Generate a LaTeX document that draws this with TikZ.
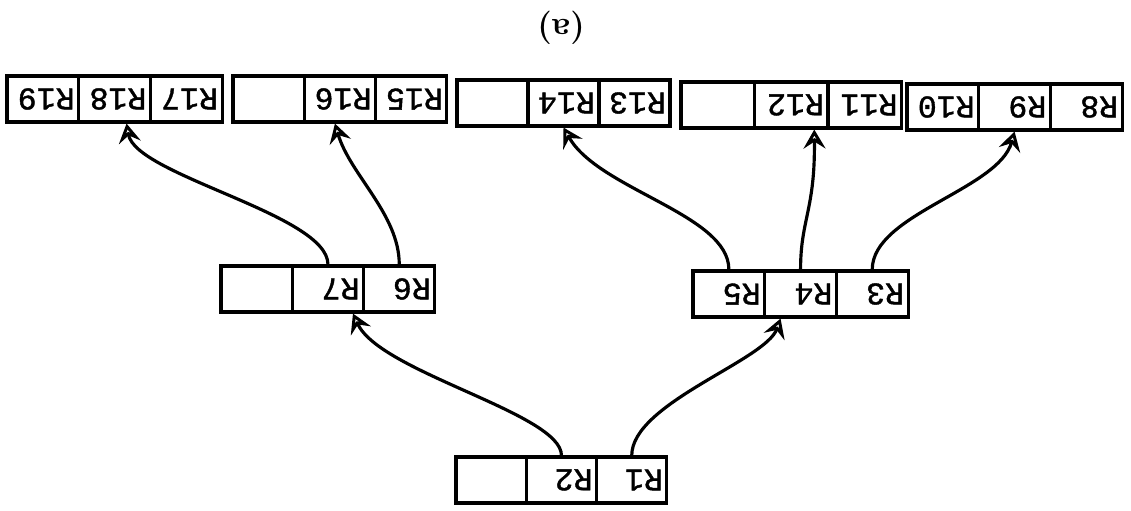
\documentclass[tikz,border=0pt]{standalone}
\usepackage{fontspec}
\usetikzlibrary{arrows.meta,calc}
\newfontfamily\cellfont{Liberation Mono}[FakeBold=1.2]

% one record of three cells; labels are given left to right as they appear
% #1 name, #2 left x, #3 top y, #4 cell width, #5 #6 #7 labels
\newcommand\recordbox[7]{%
  \node[cell, minimum width={#4*0.02cm}, text width={(#4-8)*0.02cm}]
    (#1a) at ({#2+0.5*#4},{#3+23}) {#5};
  \node[cell, minimum width={#4*0.02cm}, text width={(#4-8)*0.02cm}]
    (#1b) at ({#2+1.5*#4},{#3+23}) {#6};
  \node[cell, minimum width={#4*0.02cm}, text width={(#4-8)*0.02cm}]
    (#1c) at ({#2+2.5*#4},{#3+23}) {#7};
}

\begin{document}
\begin{tikzpicture}[x=0.02cm, y=-0.02cm,
  cell/.style={draw, line width=1.8pt, rotate=180, minimum height=0.92cm,
    inner xsep=0.06cm, inner ysep=0pt, align=left,
    font=\cellfont\fontsize{18}{18}\selectfont},
  link/.style={line width=1.8pt, line cap=round,
    -{Stealth[open, length=3.8mm, width=4.4mm, inset=1.4mm]}}]
\useasboundingbox (0,0) rectangle (1131,510);

% caption
\node[rotate=180, font=\bfseries\fontsize{19}{19}\selectfont] (caption) at (561,28) {(a)};

% leaf level
\recordbox{A}{7}{76}{71.7}{R19}{R18}{R17}
\recordbox{B}{233}{76}{71.3}{}{R16}{R15}
\recordbox{C}{457}{80}{71}{}{R14}{R13}
\recordbox{D}{681}{82}{73.5}{}{R12}{R11}
\recordbox{E}{907}{84}{71.7}{R10}{R9}{R8}

% middle level
\recordbox{F}{221}{266}{71.3}{}{R7}{R6}
\recordbox{G}{693}{271}{71.7}{R5}{R4}{R3}

% root
\recordbox{H}{456}{457}{70.3}{}{R2}{R1}

% pointers (the cells are turned over, so .south is the upper edge)
\draw[link] (Hb.south) .. controls +(0,-42) and +(27,59) .. ($(Fb.north)+(25,0)$);
\draw[link] (Hc.south) .. controls +(0,-52) and +(-15,42) .. ($(Gb.north)+(-20,0)$);
\draw[link] (Fb.south) .. controls +(0,-50) and +(9,52) .. ($(Ab.north)+(12,0)$);
\draw[link] (Fc.south) .. controls +(0,-50) and +(15,51) .. ($(Bb.north)+(-5,0)$);
\draw[link] (Ga.south) .. controls +(0,-55) and +(35,62) .. (Cb.north);
\draw[link] (Gb.south) .. controls +(0,-50) and +(1,80) .. ($(Db.north)+(23,0)$);
\draw[link] (Gc.south) .. controls +(0,-55) and +(-16,58) .. (Eb.north);
\end{tikzpicture}
\end{document}
